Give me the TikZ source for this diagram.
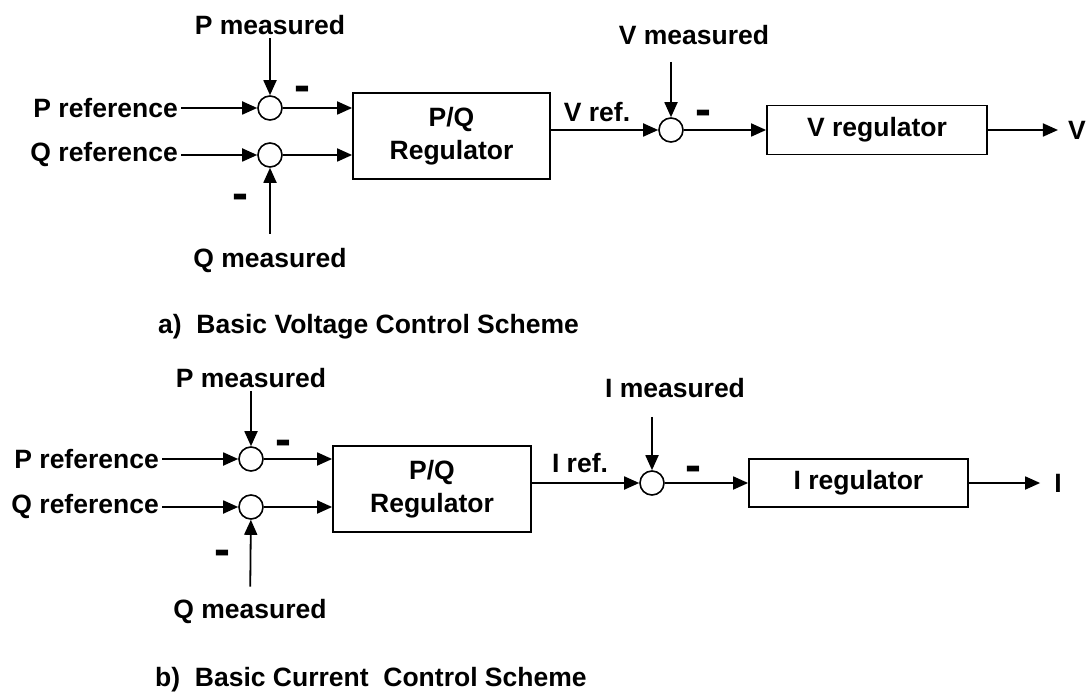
\documentclass[tikz,border=0pt]{standalone}
\usepackage{fontspec}
\setmainfont{Liberation Sans}
\usetikzlibrary{arrows.meta, calc}
\tikzset{
    bloco/.style={draw=black, line width=1.8pt, inner sep=0pt, align=center},
    somador/.style={draw=black, circle, line width=1.6pt, minimum size=24pt, inner sep=0pt},
    rotulo/.style={inner sep=3pt},
    legenda/.style={inner sep=3pt, anchor=west, font=\fontsize{26.5}{30}\selectfont\bfseries},
    sinal/.style={inner sep=0pt, anchor=base, font=\fontsize{48}{48}\selectfont\bfseries},
    seta/.style={-{Triangle[length=15pt,width=13pt]}, line width=1.8pt}
}

\begin{document}
\begin{tikzpicture}[x=1pt, y=-1pt, font=\fontsize{26.5}{33}\selectfont\bfseries]
    \useasboundingbox (0,0) rectangle (1091,700);
    % Esquema a)
    \node[rotulo, anchor=east] (prefa) at (181,108) {P reference};
    \node[rotulo, anchor=east] (qrefa) at (181,155) {Q reference};
    \node[somador] (sompa) at (270,108) {};
    \node[somador] (somqa) at (270,155) {};
    \node[rotulo] (pmeda) at (270,25) {P measured};
    \node[rotulo] (qmeda) at (270,261) {Q measured};
    \node[sinal] (menospa) at (302,102) {-};
    \node[sinal] (menosqa) at (240,210) {-};
    \node[bloco, minimum width=197pt, minimum height=86pt] (pqa) at (451.5,136) {P/Q\\Regulator};
    \node[rotulo] (vrefa) at (597,112) {V ref.};
    \node[somador] (somva) at (671,130) {};
    \node[rotulo] (vmeda) at (694,35) {V measured};
    \node[sinal] (menosva) at (703,126) {-};
    \node[bloco, minimum width=220pt, minimum height=49pt] (vreg) at (877,130) {V regulator};
    \node[rotulo] (vsai) at (1077,130) {V};
    \node[legenda] (legendaa) at (155,327) {a)\ \ Basic Voltage Control Scheme};
    % Ligacoes a)
    \draw[seta] (prefa) -- (sompa);
    \draw[seta] (qrefa) -- (somqa);
    \draw[seta] (pmeda) -- (sompa);
    \draw[seta, shorten <=12pt] (qmeda) -- (somqa);
    \draw[seta] (sompa) -- (sompa -| pqa.west);
    \draw[seta] (somqa) -- (somqa -| pqa.west);
    \draw[seta] (pqa.east |- somva) -- (somva);
    \draw[seta, shorten <=14pt] (vmeda.south -| somva) -- (somva);
    \draw[seta] (somva) -- (vreg);
    \draw[seta, shorten >=7pt] (vreg) -- (vsai);
    % Esquema b)
    \node[rotulo, anchor=east] (prefb) at (162,459) {P reference};
    \node[rotulo, anchor=east] (qrefb) at (162,507) {Q reference};
    \node[somador] (sompb) at (251,459) {};
    \node[somador] (somqb) at (251,507) {};
    \node[rotulo] (pmedb) at (251,378) {P measured};
    \node[rotulo] (qmedb) at (250,612) {Q measured};
    \node[sinal] (menospb) at (283,455) {-};
    \node[sinal] (menosqb) at (222,565) {-};
    \node[bloco, minimum width=198pt, minimum height=86pt] (pqb) at (432,489) {P/Q\\Regulator};
    \node[rotulo] (irefb) at (580,463) {I ref.};
    \node[somador] (somib) at (652,483) {};
    \node[rotulo] (imedb) at (675,388) {I measured};
    \node[sinal] (menosib) at (693,481) {-};
    \node[bloco, minimum width=219pt, minimum height=48pt] (ireg) at (858.5,483) {I regulator};
    \node[rotulo] (isai) at (1058,483) {I};
    \node[legenda] (legendab) at (152,680) {b)\ \ Basic Current\ \ Control Scheme};
    % Ligacoes b)
    \draw[seta] (prefb) -- (sompb);
    \draw[seta] (qrefb) -- (somqb);
    \draw[seta] (pmedb) -- (sompb);
    \draw[seta, shorten <=10pt] (qmedb) -- (somqb);
    \draw[seta] (sompb) -- (sompb -| pqb.west);
    \draw[seta] (somqb) -- (somqb -| pqb.west);
    \draw[seta] (pqb.east |- somib) -- (somib);
    \draw[seta, shorten <=16pt] (imedb.south -| somib) -- (somib);
    \draw[seta] (somib) -- (ireg);
    \draw[seta, shorten >=11pt] (ireg) -- (isai);
\end{tikzpicture}
\end{document}
